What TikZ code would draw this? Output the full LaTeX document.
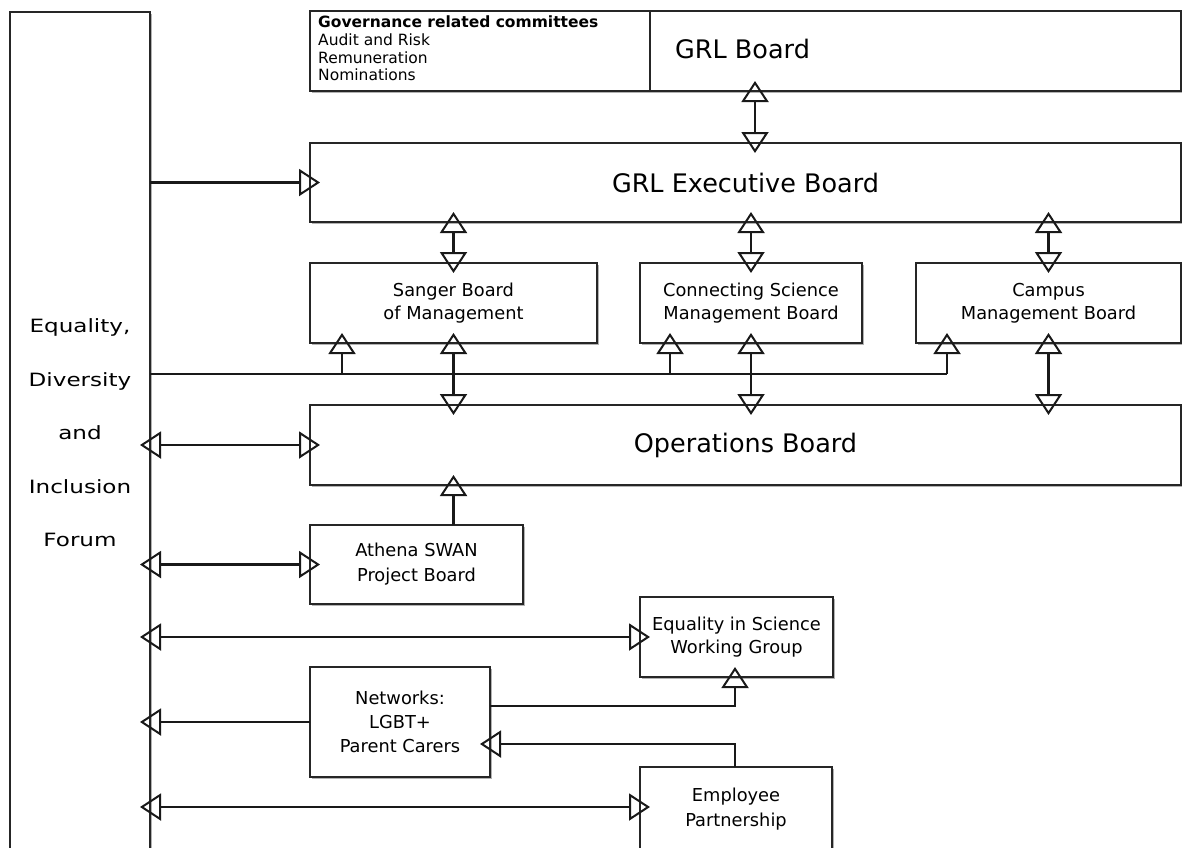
\documentclass[tikz,border=0pt]{standalone}
\usepackage{fontspec}
\setmainfont{DejaVu Sans}
\newfontfamily\widefont[FakeStretch=1.26]{DejaVu Sans}
\usetikzlibrary{arrows.meta,shadows,calc}
\tikzset{
  box/.style={draw=black!85, line width=1.5pt, fill=white, inner sep=0pt, outer sep=0pt,
    anchor=north west, align=center,
    drop shadow={shadow xshift=2pt, shadow yshift=-2pt, fill=black!55, opacity=.55},
    font=\fontsize{17.8}{22.5}\selectfont},
  title/.style={font=\fontsize{25.5}{30}\selectfont},
  conn/.style={line width=2.1pt, black!90},
  hd/.style={Triangle[open,width=27pt,length=21pt,line width=2pt]},
  tip/.style={conn, -{Triangle[open,width=27pt,length=21pt,line width=2pt]}, shorten >=-10pt},
  bitip/.style={conn, {Triangle[open,width=27pt,length=21pt,line width=2pt]}-{Triangle[open,width=27pt,length=21pt,line width=2pt]}, shorten >=-10pt, shorten <=-10pt},
}
\begin{document}
\begin{tikzpicture}[x=1pt,y=-1pt]
\useasboundingbox (0,0) rectangle (1182,847);
\fill[white] (0,0) rectangle (1182,847);

% boxes
\node[box, minimum width=140pt, minimum height=848pt] (edi) at (10,12) {};
\node[font=\widefont\fontsize{18.3}{53.5}\selectfont, align=center] (edilabel) at (80,433) {Equality,\\Diversity\\and\\Inclusion\\Forum};

\node[box, minimum width=340pt, minimum height=80pt] (gov) at (310,11) {};
\node[anchor=north west, align=left, inner sep=0pt, font=\fontsize{15.5}{17.6}\selectfont] (govtext) at (318,16)
  {\textbf{Governance related committees}\\Audit and Risk\\Remuneration\\Nominations};
\node[box, minimum width=531pt, minimum height=80pt] (grl) at (650,11) {};
\node[title, anchor=west, inner sep=0pt] (grltext) at (675,49) {GRL Board};

\node[box, title, minimum width=871pt, minimum height=79pt] (exec) at (310,143) {GRL Executive Board};

\node[box, minimum width=287pt, minimum height=80pt] (sanger) at (310,263) {Sanger Board\\of Management};
\node[box, minimum width=222pt, minimum height=80pt] (cs) at (640,263) {Connecting Science\\Management Board};
\node[box, minimum width=265pt, minimum height=80pt] (campus) at (916,263) {Campus\\Management Board};

\node[box, title, minimum width=871pt, minimum height=80pt] (ops) at (310,405) {Operations Board};

\node[box, font=\fontsize{17.8}{25}\selectfont, minimum width=213pt, minimum height=79pt] (athena) at (310,525) {Athena SWAN\\Project Board};
\node[box, minimum width=193pt, minimum height=80pt] (eis) at (640,597) {Equality in Science\\Working Group};
\node[box, font=\fontsize{17.8}{24}\selectfont, minimum width=180pt, minimum height=110pt] (net) at (310,667) {Networks:\\LGBT+\\Parent Carers};
\node[box, font=\fontsize{17.8}{25}\selectfont, minimum width=192pt, minimum height=83pt] (emp) at (640,767) {\raisebox{5pt}{\begin{tabular}{@{}c@{}}Employee\\Partnership\end{tabular}}};

% helper coordinates
\coordinate (b0) at (150,374);
\coordinate (b1) at (342,374);
\coordinate (b2) at (670,374);
\coordinate (b3) at (947,374);
\coordinate (gx) at (755,0);
\coordinate (nt) at (735,706);
\coordinate (et) at (735,744);
\coordinate (ey) at (0,807);

% connectors
\draw[bitip] (gx |- grl.south) -- (gx |- exec.north);
\draw[tip] (edi.east |- exec.west) -- (exec.west);

\draw[bitip] (sanger.north |- exec.south) -- (sanger.north);
\draw[bitip] (cs.north |- exec.south) -- (cs.north);
\draw[bitip] (campus.north |- exec.south) -- (campus.north);

\draw[conn] (b0) -- (b3);
\draw[tip] (b1) -- (b1 |- sanger.south);
\draw[tip] (b2) -- (b2 |- cs.south);
\draw[tip] (b3) -- (b3 |- campus.south);

\draw[bitip] (sanger.south) -- (sanger.south |- ops.north);
\draw[bitip] (cs.south) -- (cs.south |- ops.north);
\draw[bitip] (campus.south) -- (campus.south |- ops.north);

\draw[bitip] (edi.east |- ops.west) -- (ops.west);
\draw[tip] (sanger.south |- athena.north) -- (sanger.south |- ops.south);
\draw[bitip] (edi.east |- athena.west) -- (athena.west);
\draw[bitip] (edi.east |- eis.west) -- (eis.west);
\draw[tip] (net.west) -- (edi.east |- net.west);
\draw[tip] (net.east |- nt) -- (nt) -- (nt |- eis.south);
\draw[tip] (et |- emp.north) -- (et) -- (net.east |- et);
\draw[bitip] (edi.east |- ey) -- (emp.west |- ey);
\end{tikzpicture}
\end{document}
